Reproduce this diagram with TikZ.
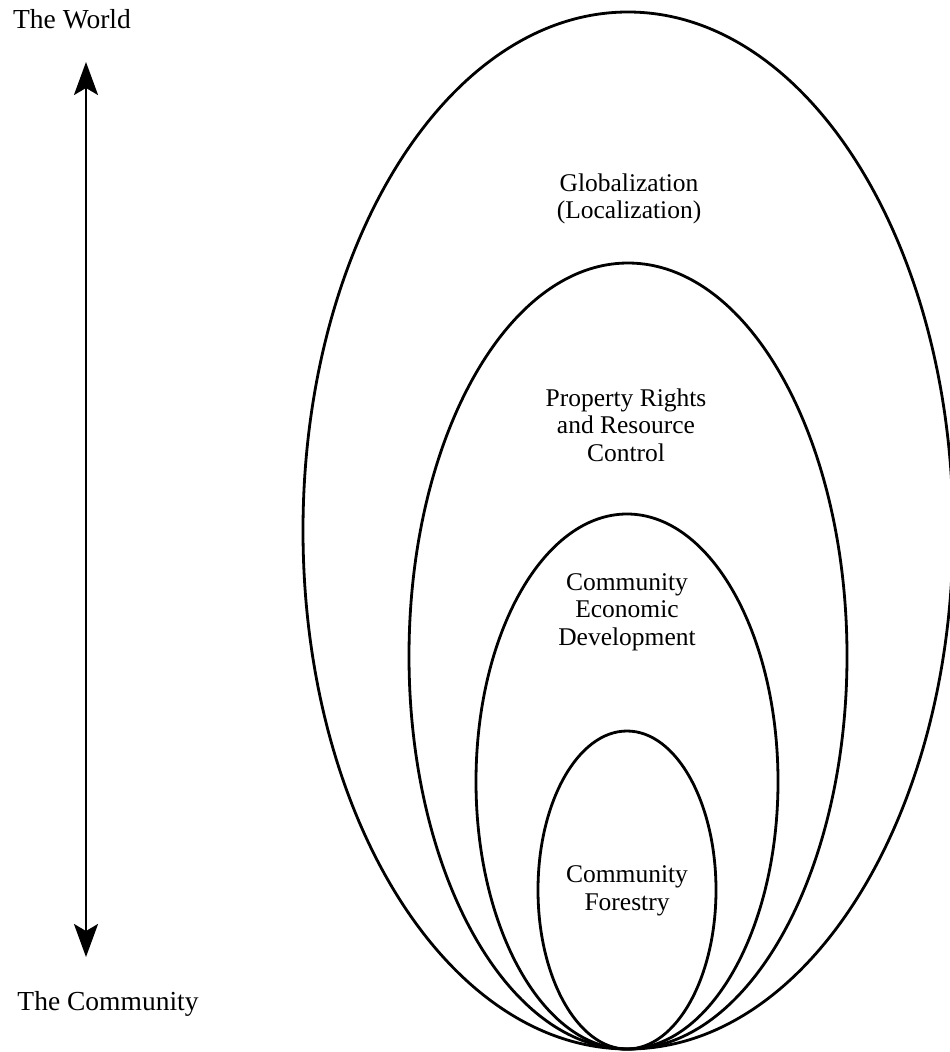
\documentclass[tikz,border=0pt]{standalone}
\usepackage{fontspec}
\setmainfont{Liberation Serif}
\usetikzlibrary{arrows.meta}
\begin{document}
\begin{tikzpicture}[x=1pt,y=-1pt,
  ring/.style={line width=2.8pt},
  lbl/.style={align=center,inner sep=0pt,font=\fontsize{25.5}{27.5}\selectfont},
  side/.style={inner sep=0pt,font=\fontsize{27.5}{30}\selectfont},
  scale arrow/.style={line width=2.4pt,{Stealth[length=33pt,width=24pt,inset=7pt]}-{Stealth[length=33pt,width=24pt,inset=7pt]}}]
  \clip (0,0) rectangle (950,1052);
  \fill[white] (0,0) rectangle (950,1052);

  % nested rings, all touching at the bottom point
  \draw[ring] (628,530.5) ellipse [x radius=325,y radius=518.5];
  \draw[ring] (628,656)   ellipse [x radius=219,y radius=393];
  \draw[ring] (627,781.5) ellipse [x radius=151,y radius=267.5];
  \draw[ring] (627,890)   ellipse [x radius=89, y radius=159];

  % ring labels
  \node[lbl] (glob) at (629,199) {Globalization\\(Localization)};
  \node[lbl] (prop) at (626,425) {Property Rights\\and Resource\\Control};
  \node[lbl] (ced)  at (627,612) {Community\\Economic\\Development};
  \node[lbl] (cf)   at (627,891) {Community\\Forestry};

  % scale from world to community
  \node[side] (world) at (72,19) {The World};
  \node[side] (comm)  at (108,1004) {The Community};
  \coordinate (top) at (86,62);
  \coordinate (bot) at (86,957);
  \draw[scale arrow] (bot) -- (top);
\end{tikzpicture}
\end{document}
